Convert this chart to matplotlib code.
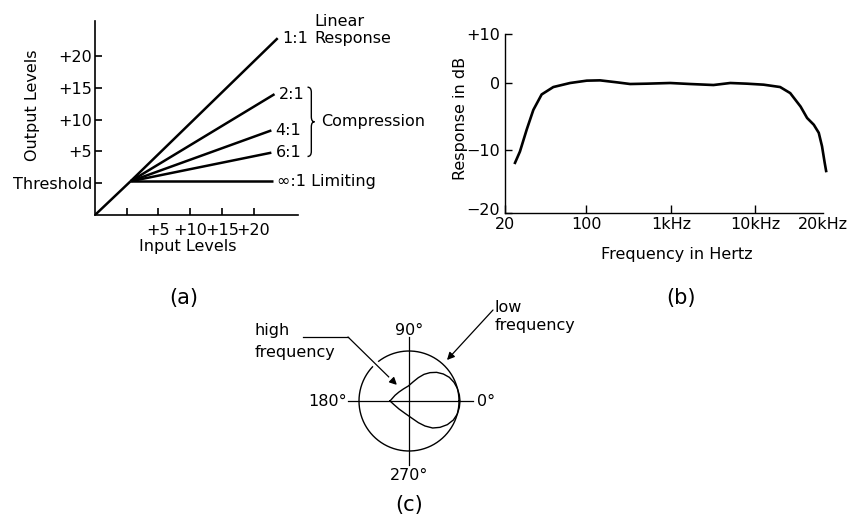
import numpy as np
import matplotlib
matplotlib.use('Agg')
import matplotlib.pyplot as plt
import matplotlib.transforms as mtransforms
import matplotlib.patheffects as pe
from matplotlib.path import Path
from matplotlib.patches import PathPatch

W, H = 853, 520

# (a) compressor transfer curves
ratio_labels = ['1:1', '2:1', '4:1', '6:1', '\u221e:1 Limiting']
end_in = [23.8, 23.3, 22.8, 22.8, 23.0]
end_out = [22.8, 14.0, 8.3, 4.8, 0.3]
knee_in, knee_out = 0.6, 0.3
start_level = -5
level_ticks = [0, 5, 10, 15, 20]
input_labels = ['', '+5', '+10', '+15', '+20']
output_labels = ['Threshold', '+5', '+10', '+15', '+20']

# (b) frequency response
freq_hz = [24.4, 26.9, 30.8, 35.1, 41.4, 52.2, 72.8, 102, 146, 230, 331, 521,
           982, 1690, 3200, 5060, 7960, 10900, 12900, 14300, 15900, 17000,
           18200, 19150, 19800, 20350, 20650]
resp_db = [-12.0, -10.2, -6.9, -4.0, -1.7, -0.6, 0.0, 0.48, 0.54, 0.14, -0.15,
           -0.1, 0.0, -0.15, -0.3, 0.0, -0.1, -0.25, -0.6, -1.5, -3.5, -5.2,
           -6.2, -7.4, -9.4, -12.0, -13.3]
freq_ticks = [20, 100, 1000, 10000, 20000]
freq_labels = ['20', '100', '1kHz', '10kHz', '20kHz']
db_ticks = [-20, -10, 0, 10]
db_labels = ['\u221220', '\u221210', '0', '+10']

# (c) polar pattern: outer circle = low freq, lobe = high freq
# lobe outline in units of the circle radius
lobe_x = [-0.38, -0.333, -0.28, -0.2, -0.113, -0.013, 0.087, 0.187, 0.30, 0.42,
          0.553, 0.687, 0.807, 0.90, 0.967, 1.007, 1.02,
          1.007, 0.967, 0.887, 0.767, 0.62, 0.473, 0.32, 0.187, 0.053, -0.08,
          -0.2, -0.30, -0.38]
lobe_y = [0.0, 0.053, 0.113, 0.18, 0.24, 0.30, 0.387, 0.467, 0.533, 0.567,
          0.573, 0.54, 0.473, 0.373, 0.253, 0.12, 0.0,
          -0.127, -0.26, -0.38, -0.473, -0.527, -0.54, -0.50, -0.433, -0.34,
          -0.247, -0.16, -0.073, 0.0]
angle_labels = ['0\u00b0', '90\u00b0', '180\u00b0', '270\u00b0']

FS = 11.5
plt.rcParams['font.family'] = 'DejaVu Sans'
plt.rcParams['font.size'] = FS

fig = plt.figure(figsize=(W / 100, H / 100), dpi=100)


def px_axes(left, top, right, bottom):
    return fig.add_axes([left / W, 1 - bottom / H, (right - left) / W, (bottom - top) / H])


def fig_text(x, y, s, **kw):
    fig.text(x / W, 1 - y / H, s, **kw)


# ---------------- (a) ----------------
ax = px_axes(95, 21, 298, 215)
ax.set_xlim(-5, 27)
ax.set_ylim(-5, 25.5)
for s in ['top', 'right']:
    ax.spines[s].set_visible(False)
for s in ['left', 'bottom']:
    ax.spines[s].set_linewidth(1.2)
ax.set_xticks(level_ticks, input_labels)
ax.set_yticks(level_ticks, output_labels)
ax.tick_params(axis='both', direction='in', length=5, width=1.2)
ax.tick_params(axis='x', pad=5.5)
ax.tick_params(axis='y', pad=2)

ax.plot([start_level, knee_in], [start_level, knee_out], color='k', lw=1.8,
        solid_capstyle='butt')
for lab, xe, ye in zip(ratio_labels, end_in, end_out):
    ax.plot([knee_in, xe], [knee_out, ye], color='k', lw=1.8, solid_capstyle='butt')
    ax.annotate(lab, (xe, ye), xytext=(3, 0), textcoords='offset points',
                va='center', ha='left', annotation_clip=False)

ax.text(29.6, 25.5, 'Linear', ha='left', va='center')
ax.text(29.6, 22.8, 'Response', ha='left', va='center')

# brace around the compression ratios
top, bot = end_out[1] + 1.1, end_out[3] - 0.6
mid = (top + bot) / 2
x0, x1, x2, d = 28.5, 29.1, 29.6, 0.8
verts = [(x0, top), (x1, top), (x1, top - d), (x1, mid + d), (x1, mid), (x2, mid),
         (x1, mid), (x1, mid - d), (x1, bot + d), (x1, bot), (x0, bot)]
codes = [Path.MOVETO, Path.CURVE3, Path.CURVE3, Path.LINETO, Path.CURVE3, Path.CURVE3,
         Path.CURVE3, Path.CURVE3, Path.LINETO, Path.CURVE3, Path.CURVE3]
ax.add_patch(PathPatch(Path(verts, codes), fill=False, lw=1.0, clip_on=False))
ax.text(30.7, mid, 'Compression', ha='left', va='center')

fig_text(33, 105, 'Output Levels', rotation=90, ha='center', va='center')
fig_text(188, 246, 'Input Levels', ha='center', va='center')
fig_text(184, 298, '(a)', ha='center', va='center', fontsize=15)

# ---------------- (b) ----------------
fq_knots = np.log10([10, 20, 100, 1000, 10000, 20000, 40000])
fq_px = [-34.9, 0, 81, 165.7, 250, 317.7, 385.4]
db_knots = [-30, -20, -10, 0, 10, 20]
db_px = [-62.7, 0, 62.7, 130, 179, 228]


def f_fwd(f):
    return np.interp(np.log10(np.clip(f, 1e-3, None)), fq_knots, fq_px)


def f_inv(p):
    return 10 ** np.interp(p, fq_px, fq_knots)


def db_fwd(v):
    return np.interp(v, db_knots, db_px)


def db_inv(p):
    return np.interp(p, db_px, db_knots)


bx = px_axes(505, 34, 823, 213)
bx.set_xscale('function', functions=(f_fwd, f_inv))
bx.set_yscale('function', functions=(db_fwd, db_inv))
bx.plot(freq_hz, resp_db, color='k', lw=1.9, clip_on=False)
bx.set_xlim(20, 20000)
bx.set_ylim(-20, 10)
for s in ['top', 'right']:
    bx.spines[s].set_visible(False)
for s in ['left', 'bottom']:
    bx.spines[s].set_linewidth(1.0)
bx.set_xticks(freq_ticks, freq_labels)
bx.set_yticks(db_ticks, db_labels)
bx.xaxis.set_minor_locator(plt.NullLocator())
bx.yaxis.set_minor_locator(plt.NullLocator())
bx.tick_params(axis='x', direction='in', length=6, width=1.0, pad=3)
bx.tick_params(axis='y', direction='in', length=5, width=1.0, pad=3.5)
bx.xaxis.get_major_ticks()[-1].tick1line.set_visible(False)
# lift the -20 label a little so it clears the "20" below it
lbl = bx.yaxis.get_major_ticks()[0].label1
lbl.set_transform(lbl.get_transform() +
                  mtransforms.ScaledTranslation(0, 4 / 100, fig.dpi_scale_trans))

fig_text(461, 118, 'Response in dB', rotation=90, ha='center', va='center')
fig_text(677, 255, 'Frequency in Hertz', ha='center', va='center')
fig_text(681, 298, '(b)', ha='center', va='center', fontsize=15)

# ---------------- (c) ----------------
cx = px_axes(339, 331, 479, 471)
cx.set_xlim(-1.4, 1.4)
cx.set_ylim(-1.4, 1.4)
cx.set_aspect('equal')
cx.axis('off')

t = np.linspace(0, 2 * np.pi, 361)
cx.plot(np.cos(t), np.sin(t), color='k', lw=1.0, clip_on=False)
cx.plot(lobe_x, lobe_y, color='k', lw=1.0, clip_on=False)
cx.plot([-1.22, 1.28], [0, 0], color='k', lw=0.9, clip_on=False)
cx.plot([0, 0], [-1.28, 1.28], color='k', lw=0.9, clip_on=False)

cx.text(1.36, 0, angle_labels[0], ha='left', va='center')
cx.text(0, 1.42, angle_labels[1], ha='center', va='center')
cx.text(-1.24, 0, angle_labels[2], ha='right', va='center')
cx.text(0, -1.5, angle_labels[3], ha='center', va='center')

arrow = dict(arrowstyle='-|>', color='k', lw=0.9, mutation_scale=11,
             shrinkA=0, shrinkB=0)
hi = cx.annotate('', xy=(-0.24, 0.32), xytext=(-1.22, 1.28), arrowprops=arrow,
                 annotation_clip=False)
hi.arrow_patch.set_path_effects([pe.withStroke(linewidth=5, foreground='white')])
# leader drawn on top so the white halo doesn't cut it
cx.plot([-2.12, -1.21], [1.28, 1.28], color='k', lw=0.9, clip_on=False, zorder=5)
cx.annotate('', xy=(0.76, 0.82), xytext=(1.68, 1.82), arrowprops=arrow,
            annotation_clip=False)

fig_text(255, 335, 'high', ha='left', va='baseline')
fig_text(255, 357, 'frequency', ha='left', va='baseline')
fig_text(495, 312, 'low', ha='left', va='baseline')
fig_text(495, 330, 'frequency', ha='left', va='baseline')
fig_text(409, 505, '(c)', ha='center', va='center', fontsize=15)

fig.savefig('out.png', dpi=100)
